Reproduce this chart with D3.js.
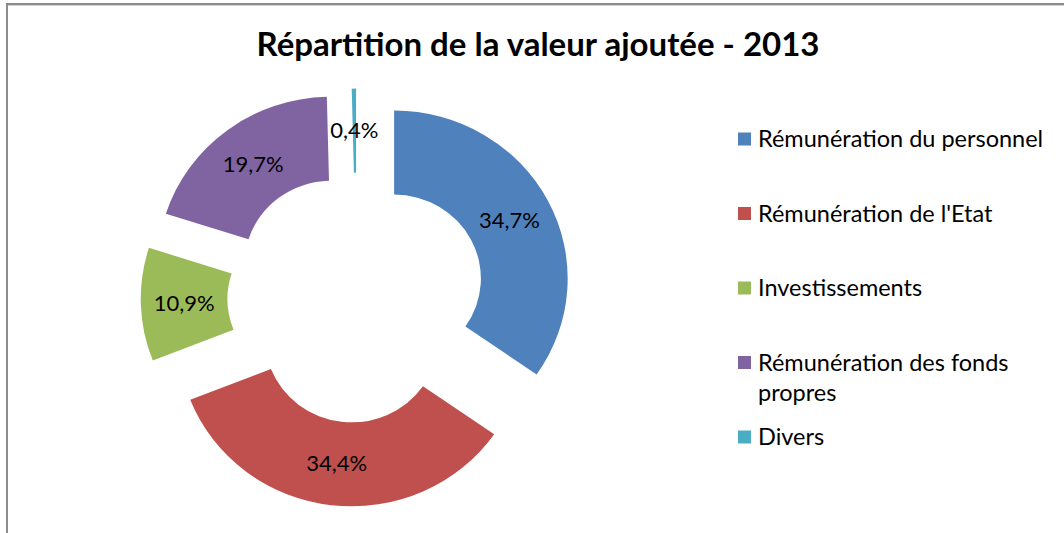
<!DOCTYPE html>
<html>
<head>
<meta charset="utf-8">
<script src="https://cdn.jsdelivr.net/npm/d3@7"></script>
<style>
  html, body { margin: 0; padding: 0; background: #fff; }
  svg { display: block; }
  text { font-family: Lato, "Open Sans", sans-serif; fill: #000; }
</style>
</head>
<body>
<svg id="chart" width="1064" height="533"></svg>
<script>
const title = "Répartition de la valeur ajoutée - 2013";
const categories = ["Rémunération du personnel", "Rémunération de l'Etat", "Investissements", "Rémunération des fonds propres", "Divers"];
const values = [34.7, 34.4, 10.9, 19.7, 0.4];
const colors = ["#4F81BD", "#C0504D", "#9BBB59", "#8064A2", "#4BACC6"];

const W = 1064, H = 533;
const svg = d3.select("#chart");

// frame
svg.append("rect").attr("x", 7).attr("y", 4).attr("width", W + 10).attr("height", H + 10)
  .attr("fill", "none").attr("stroke", "#8c8c8c").attr("stroke-width", 2);
svg.append("line").attr("x1", 8).attr("x2", W).attr("y1", 5.5).attr("y2", 5.5)
  .attr("stroke", "#d0d0d0").attr("stroke-width", 1);

// title
svg.append("text").attr("x", 538).attr("y", 56).attr("text-anchor", "middle")
  .attr("font-size", 33).attr("font-weight", "bold").text(title);

// donut
const cx = 356.6, cy = 297.6, R = 168, r = 84, explode = 41, sx = 1.033;
const locale = d3.formatLocale({ decimal: ",", thousands: " ", grouping: [3], currency: ["", " €"] });
const fmt = locale.format(".1f");

const pie = d3.pie().sort(null).value(d => d).startAngle(0).endAngle(2 * Math.PI);
const arc = d3.arc().innerRadius(r).outerRadius(R);
const arcs = pie(values);

const offset = a => {
  const m = (a.startAngle + a.endAngle) / 2;
  return [explode * Math.sin(m), -explode * Math.cos(m)];
};

const g = svg.append("g").attr("transform", `translate(${cx},${cy}) scale(${sx},1)`);
g.selectAll("path").data(arcs).join("path")
  .attr("d", arc)
  .attr("transform", a => { const o = offset(a); return `translate(${o[0]},${o[1]})`; })
  .attr("fill", (a, i) => colors[i]);

svg.append("g").selectAll("text").data(arcs).join("text")
  .attr("x", a => cx + sx * (arc.centroid(a)[0] + offset(a)[0]))
  .attr("y", a => cy + arc.centroid(a)[1] + offset(a)[1])
  .attr("text-anchor", "middle").attr("dy", "0.35em")
  .attr("font-size", 22)
  .text(a => fmt(a.data) + "%");

// legend
const lx = 738, ly0 = 139, lstep = 74.5, lh = 30, maxW = 300;
const leg = svg.append("g");
categories.forEach((c, i) => {
  const y = ly0 + i * lstep;
  leg.append("rect").attr("x", lx).attr("y", y - 6.5).attr("width", 13).attr("height", 13)
    .attr("fill", colors[i]);
  const t = leg.append("text").attr("x", lx + 20).attr("y", y).attr("font-size", 23.5);
  const words = c.split(" ");
  let line = [];
  let ts = t.append("tspan").attr("x", lx + 20).attr("dy", "0.35em");
  words.forEach(w => {
    line.push(w);
    ts.text(line.join(" "));
    if (ts.node().getComputedTextLength() > maxW && line.length > 1) {
      line.pop();
      ts.text(line.join(" "));
      line = [w];
      ts = t.append("tspan").attr("x", lx + 20).attr("dy", lh).text(w);
    }
  });
});
</script>
</body>
</html>
